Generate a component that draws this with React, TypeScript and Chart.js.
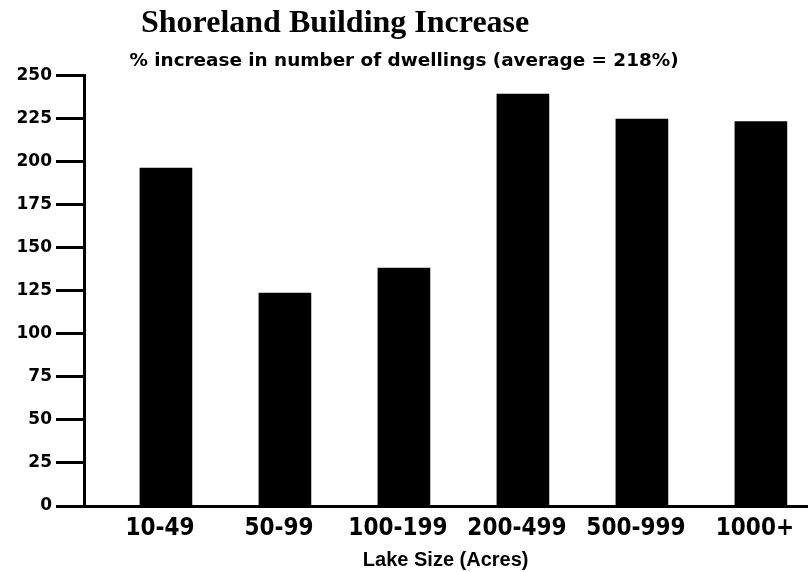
import React, { useEffect, useRef } from "react";
import { Chart, registerables } from "chart.js";

Chart.register(...registerables);

const TITLE = "Shoreland Building Increase";
const SUBTITLE = "% increase in number of dwellings (average = 218%)";
const X_TITLE = "Lake Size (Acres)";
const CATEGORIES = ["10-49", "50-99", "100-199", "200-499", "500-999", "1000+"];
const VALUES = [196, 123.5, 138, 239, 224.5, 223];
const Y_TICKS = [0, 25, 50, 75, 100, 125, 150, 175, 200, 225, 250];

const titlePlugin = {
  id: "serifTitle",
  afterDraw(chart: any) {
    const ctx = chart.ctx;
    ctx.save();
    ctx.fillStyle = "#000";
    ctx.font = 'bold 32px "Liberation Serif", "Times New Roman", serif';
    ctx.textAlign = "left";
    ctx.textBaseline = "alphabetic";
    ctx.fillText(TITLE, 141, 32);
    ctx.restore();
  },
};

export default function App() {
  const ref = useRef<HTMLCanvasElement | null>(null);

  useEffect(() => {
    document.body.style.margin = "0";
    const canvas = ref.current;
    if (!canvas) return;
    const chart = new Chart(canvas, {
      type: "bar",
      data: {
        datasets: [
          {
            data: CATEGORIES.map((_, i) => ({ x: i + 1, y: VALUES[i] })),
            backgroundColor: "#000",
            borderWidth: 0,
            barThickness: 52,
          },
        ],
      },
      plugins: [titlePlugin],
      options: {
        responsive: false,
        animation: false,
        devicePixelRatio: 1,
        layout: { padding: { top: 50, left: 0, right: 0, bottom: 0 } },
        plugins: {
          legend: { display: false },
          tooltip: { enabled: false },
          title: { display: false },
          subtitle: {
            display: true,
            text: SUBTITLE,
            color: "#000",
            font: { family: '"DejaVu Sans", sans-serif', weight: "bold", size: 18.4 },
            padding: { top: 0, bottom: 3 },
          },
        },
        scales: {
          x: {
            type: "linear",
            offset: false,
            min: 0.3115,
            max: 6.39,
            grid: { display: false, drawTicks: false, offset: false },
            border: { display: true, color: "#000", width: 3 },
            ticks: {
              stepSize: 1,
              autoSkip: false,
              includeBounds: false,
              maxRotation: 0,
              padding: 8,
              labelOffset: -6,
              color: "#000",
              font: {
                family: '"DejaVu Sans Condensed", "DejaVu Sans", sans-serif',
                weight: "bold",
                size: 24,
              },
              callback: (v: any) => {
                const n = Number(v);
                return Number.isInteger(n) && n >= 1 && n <= CATEGORIES.length
                  ? CATEGORIES[n - 1]
                  : "";
              },
            },
            title: {
              display: true,
              text: X_TITLE,
              color: "#000",
              font: { family: '"Liberation Sans", Arial, sans-serif', weight: "bold", size: 20 },
              padding: { top: -2.8, bottom: 0 },
            },
          },
          y: {
            min: 0,
            max: 250,
            afterFit: (scale: any) => {
              scale.width = 84;
            },
            afterBuildTicks: (scale: any) => {
              scale.ticks = Y_TICKS.map((v) => ({ value: v }));
            },
            grid: {
              drawOnChartArea: false,
              drawTicks: true,
              tickLength: 28,
              tickWidth: 3,
              tickColor: "#000",
            },
            border: { display: true, color: "#000", width: 3 },
            ticks: {
              padding: 4,
              color: "#000",
              font: { family: '"DejaVu Sans", sans-serif', weight: "bold", size: 17 },
            },
          },
        },
      },
    } as any);
    return () => chart.destroy();
  }, []);

  return (
    <div style={{ width: 808, height: 572 }}>
      <canvas ref={ref} width={808} height={572} />
    </div>
  );
}
